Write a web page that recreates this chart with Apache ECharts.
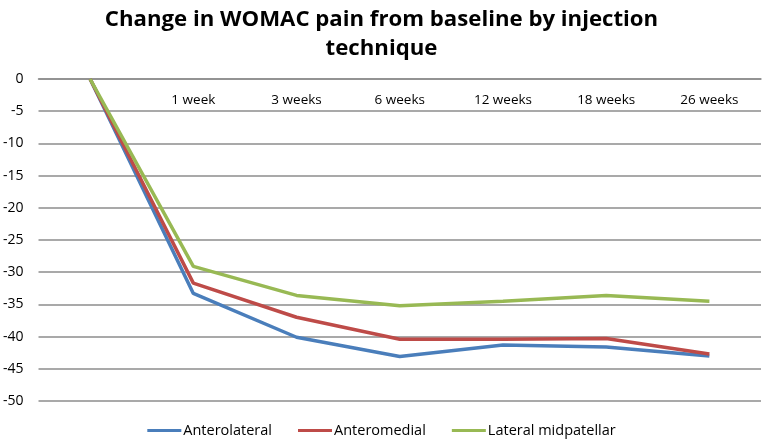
<!DOCTYPE html>
<html lang="en">
<head>
    <meta charset="utf-8">
    <title>WOMAC pain</title>
    <script src="https://cdn.jsdelivr.net/npm/echarts@6/dist/echarts.min.js"></script>
    <style>
        body {margin: 0;}
        #main {width: 763px; height: 443px; background: #fff;}
    </style>
</head>
<body>
<div id="main"></div>
<script type="text/javascript">
    // 数据
    var categories = ['', '1 week', '3 weeks', '6 weeks', '12 weeks', '18 weeks', '26 weeks'];
    var anterolateral = [0, -33.3, -40.1, -43.1, -41.3, -41.6, -43.0];
    var anteromedial = [0, -31.7, -37.0, -40.4, -40.4, -40.3, -42.7];
    var lateralMid = [0, -29.1, -33.6, -35.2, -34.5, -33.6, -34.5];

    var myChart = echarts.init(document.getElementById('main'));

    function line(name, data, color) {
        return {
            name: name,
            type: 'line',
            data: data,
            symbol: 'none',
            lineStyle: {width: 3.5, color: color},
            itemStyle: {color: color}
        };
    }

    var option = {
        animation: false,
        textStyle: {fontFamily: 'Open Sans'},
        title: {
            text: 'Change in WOMAC pain from baseline by injection\ntechnique',
            left: 'center',
            top: 0,
            textStyle: {fontSize: 22.2, fontWeight: 'bold', color: '#000', lineHeight: 29, fontFamily: 'Open Sans'}
        },
        legend: {
            bottom: 0,
            left: 'center',
            icon: 'rect',
            itemWidth: 34,
            itemHeight: 3,
            itemGap: 26,
            textStyle: {fontSize: 14.5, color: '#000', padding: [0, 0, 0, -3]},
            data: ['Anterolateral', 'Anteromedial', 'Lateral midpatellar']
        },
        grid: {left: 37, right: 2, top: 79, bottom: 42},
        xAxis: {
            type: 'category',
            position: 'top',
            data: categories,
            axisLine: {onZero: false, lineStyle: {color: '#8c8c8c', width: 1.5}},
            axisTick: {show: false},
            axisLabel: {interval: 0, inside: true, margin: 14, fontSize: 13.5, color: '#000'}
        },
        yAxis: {
            type: 'value',
            min: -50,
            max: 0,
            interval: 5,
            axisLabel: {fontSize: 14, color: '#000', margin: 15},
            splitLine: {lineStyle: {color: '#8c8c8c', width: 1.5}}
        },
        series: [
            line('Anterolateral', anterolateral, '#4a7ebb'),
            line('Anteromedial', anteromedial, '#be4b48'),
            line('Lateral midpatellar', lateralMid, '#98b954')
        ]
    };
    myChart.setOption(option);
</script>
</body>
</html>
